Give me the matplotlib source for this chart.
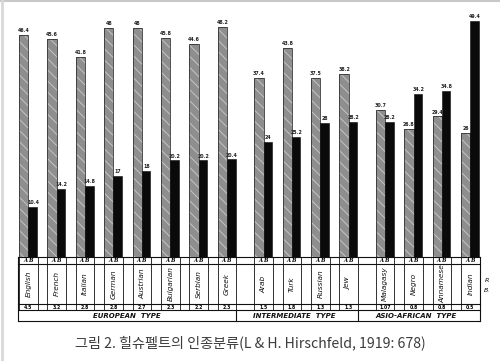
import matplotlib
matplotlib.use("Agg")
import matplotlib.pyplot as plt

# Hirschfeld 1919: percentages of agglutinogen A and B by population
nations = ["English", "French", "Italian", "German", "Austrian", "Bulgarian", "Serbian", "Greek",
           "Arab", "Turk", "Russian", "Jew",
           "Malagasy", "Negro", "Annamese", "Indian"]
group_of = [0, 0, 0, 0, 0, 0, 0, 0, 1, 1, 1, 1, 2, 2, 2, 2]
groups = ["EUROPEAN  TYPE", "INTERMEDIATE  TYPE", "ASIO-AFRICAN  TYPE"]
a_vals = [46.4, 45.6, 41.8, 48.0, 48.0, 45.8, 44.6, 48.2,
          37.4, 43.8, 37.5, 38.2,
          30.7, 26.8, 29.4, 26.0]
b_vals = [10.4, 14.2, 14.8, 17.0, 18.0, 20.2, 20.2, 20.4,
          24.0, 25.2, 28.0, 28.2,
          28.2, 34.2, 34.8, 49.4]
index_vals = ["4.5", "3.2", "2.8", "2.8", "2.7", "2.3", "2.2", "2.3",
              "1.5", "1.8", "1.3", "1.3",
              "1.07", "0.8", "0.8", "0.5"]
caption = "그림 2. 힐슈펠트의 인종분류(L & H. Hirschfeld, 1919: 678)"

W, H = 500, 361
BASE = 257          # pixel row of bar baseline
PX_PER_UNIT = 4.78  # vertical scale of the original drawing
BW = 9.3

plt.rcParams["hatch.color"] = "#c4c4c4"
plt.rcParams["hatch.linewidth"] = 0.7

fig = plt.figure(figsize=(W / 100, H / 100), dpi=100)
fig.patch.set_facecolor("white")

# bar panel (data units = percent)
ax = fig.add_axes([0, (H - BASE) / H, 1, BASE / H])
ax.set_xlim(0, W)
ax.set_ylim(0, BASE / PX_PER_UNIT)
ax.axis("off")

lefts = [19 + 28.4 * i + 8 * g for i, g in enumerate(group_of)]
ax.bar(lefts, a_vals, width=BW, align="edge", color="#8e8e8e", linewidth=0,
       hatch="\\\\\\")
ax.bar(lefts, a_vals, width=BW, align="edge", fill=False, edgecolor="#333",
       linewidth=0.6)
ax.bar([x + BW for x in lefts], b_vals, width=BW - 0.8, align="edge", color="#0a0a0a",
       edgecolor="#0a0a0a", linewidth=0.4)
for x, a, b in zip(lefts, a_vals, b_vals):
    ax.text(x + BW / 2, a + 0.4, f"{a:g}", ha="center", va="bottom", fontsize=3.4,
            fontweight="bold", color="#222")
    ax.text(x + BW * 1.5, b + 0.4, f"{b:g}", ha="center", va="bottom", fontsize=3.4,
            fontweight="bold", color="#222")

# table panel in pixel coordinates
tb = fig.add_axes([0, 0, 1, 1], zorder=-1)
tb.set_xlim(0, W)
tb.set_ylim(H, 0)
tb.axis("off")
lw = 0.8
L, R = 18, 480
y_ab, y_nm, y_ix, y_ty, y_bt = 257, 264, 304, 310, 321
for y in (y_ab, y_nm, y_ix, y_ty, y_bt):
    tb.plot([L, R], [y, y], color="#111", lw=lw)
tb.plot([L, L], [y_ab, y_bt], color="#111", lw=lw)
tb.plot([R, R], [y_ab, y_bt], color="#111", lw=lw)
for x, name, idx in zip(lefts, nations, index_vals):
    for xx in (x, x + 2 * BW):
        tb.plot([xx, xx], [y_ab, y_ty], color="#111", lw=0.6)
    cx = x + BW
    tb.text(cx, (y_ab + y_nm) / 2 + 0.5, "A B", ha="center", va="center", fontsize=3.8,
            style="italic", fontweight="bold", family="serif")
    tb.text(cx, (y_nm + y_ix) / 2, name, ha="center", va="center", rotation=90,
            fontsize=5.3, style="italic", family="DejaVu Sans", color="#111")
    tb.text(cx, (y_ix + y_ty) / 2 + 0.3, idx, ha="center", va="center", fontsize=3.3,
            fontweight="bold")

# type row
seps = [lefts[7] + 2 * BW, lefts[11] + 2 * BW]
for s in seps:
    tb.plot([s, s], [y_ty, y_bt], color="#111", lw=lw)
bounds = [L] + seps + [R]
for g, label in enumerate(groups):
    tb.text((bounds[g] + bounds[g + 1]) / 2 if g == 0 else bounds[g] + 58, (y_ty + y_bt) / 2,
            label, ha="center", va="center", fontsize=5.0, style="italic",
            fontweight="bold", color="#111")

tb.text(487, 280, "R", fontsize=4.5, style="italic", ha="center", va="center")
tb.text(487, 291, "B.", fontsize=4.5, style="italic", ha="center", va="center")

# scan border
tb.plot([0, W], [0.8, 0.8], color="#c8c8c8", lw=1.5)
tb.plot([1.5, 1.5], [0, H], color="#d8d8d8", lw=2)

fig.text(0.5, 1 - 343 / H, caption, ha="center", va="center", fontsize=10.2,
         color="#3c3c3c", family=["Noto Sans CJK KR", "DejaVu Sans"])

fig.savefig("out.png", dpi=100, facecolor="white")
